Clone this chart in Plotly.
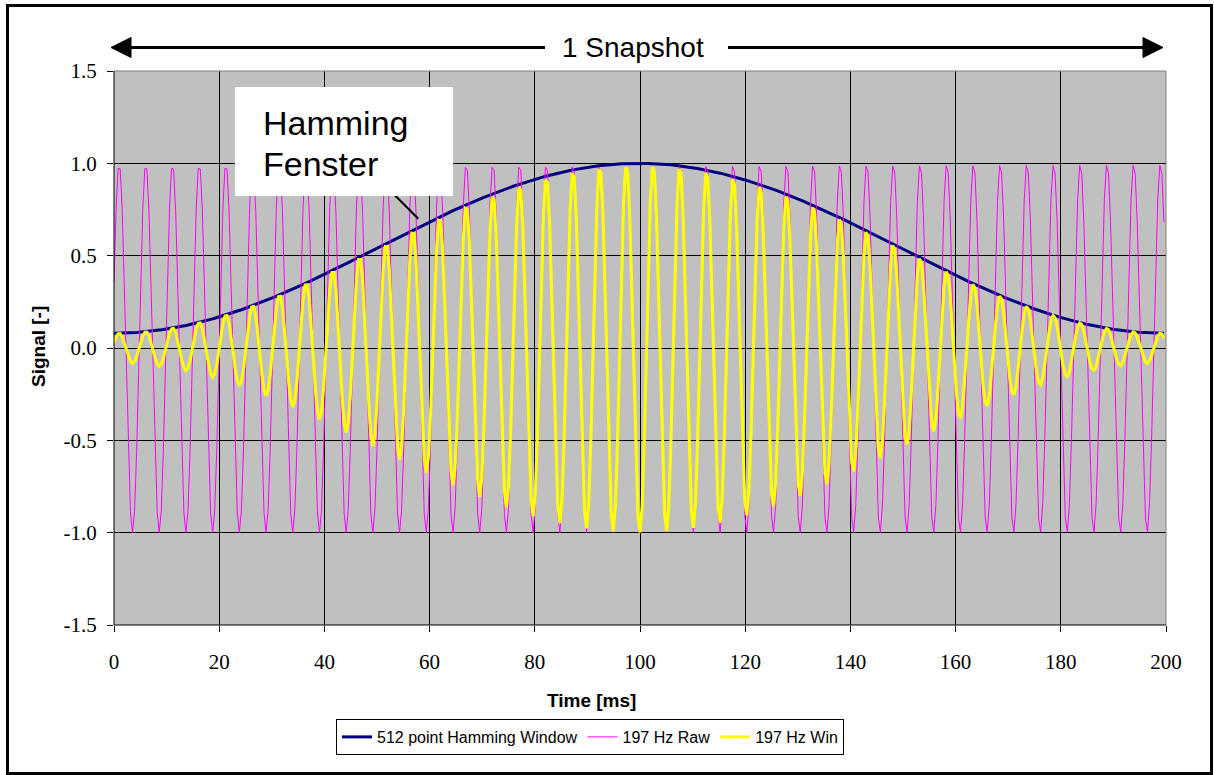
import numpy as np
import plotly.graph_objects as go

# Signal definition: 512 samples at 2560 Hz (200 ms), a 197 Hz tone,
# and a 512 point Hamming window applied to it.
N_SAMPLES = 512
SAMPLE_RATE_HZ = 2560
TONE_HZ = 197
TONE_PEAK_SAMPLE = 2.5          # sample position of the first crest of the tone
HAMMING_A0 = 0.54
HAMMING_A1 = 0.46

X_TICKS = [0, 20, 40, 60, 80, 100, 120, 140, 160, 180, 200]
Y_TICKS = [-1.5, -1.0, -0.5, 0.0, 0.5, 1.0, 1.5]
Y_TICK_LABELS = ["-1.5", "-1.0", "-0.5", "0.0", "0.5", "1.0", "1.5"]

SERIES_NAMES = ["512 point Hamming Window", "197 Hz Raw", "197 Hz Win"]
SERIES_COLORS = ["#000080", "#FF00FF", "#FFFF00"]
SERIES_WIDTHS = [3, 1, 3]

n = np.arange(N_SAMPLES)
time_ms = n * 1000.0 / SAMPLE_RATE_HZ
hamming = HAMMING_A0 - HAMMING_A1 * np.cos(2 * np.pi * n / (N_SAMPLES - 1))
raw = np.cos(2 * np.pi * TONE_HZ * (n - TONE_PEAK_SAMPLE) / SAMPLE_RATE_HZ)
windowed = raw * hamming

W, H = 1214, 775
ML, MR, MT, MB = 114, 48, 71, 150
PW, PH = W - ML - MR, H - MT - MB


def px(xpix):
    return (xpix - ML) / PW


def py(ypix):
    return (H - MB - ypix) / PH


fig = go.Figure()
for y, name, color, width in zip([hamming, raw, windowed], SERIES_NAMES,
                                 SERIES_COLORS, SERIES_WIDTHS):
    fig.add_trace(go.Scatter(x=time_ms, y=y, mode="lines", name=name,
                             line=dict(color=color, width=width)))

serif = dict(family="Liberation Serif, Times New Roman, serif", size=21, color="black")
sans = "Liberation Sans, Arial, sans-serif"

shapes = [
    # outer frame
    dict(type="rect", xref="paper", yref="paper", x0=px(7.5), x1=px(1211.5),
         y0=py(773.5), y1=py(5.5), line=dict(color="black", width=3)),
    # plot-area border: grey top/right, black left/bottom
    dict(type="line", xref="paper", yref="paper", x0=0, x1=1, y0=1, y1=1,
         line=dict(color="#808080", width=1)),
    dict(type="line", xref="paper", yref="paper", x0=1, x1=1, y0=0, y1=1,
         line=dict(color="#808080", width=1)),
    dict(type="line", xref="paper", yref="paper", x0=0, x1=0, y0=0, y1=1,
         line=dict(color="black", width=1)),
    dict(type="line", xref="paper", yref="paper", x0=0, x1=1, y0=0, y1=0,
         line=dict(color="black", width=1)),
    # "1 Snapshot" double arrow
    dict(type="line", xref="paper", yref="paper", x0=px(128), x1=px(545),
         y0=py(47.5), y1=py(47.5), line=dict(color="black", width=3)),
    dict(type="line", xref="paper", yref="paper", x0=px(728), x1=px(1146),
         y0=py(47.5), y1=py(47.5), line=dict(color="black", width=3)),
    dict(type="path", xref="paper", yref="paper", fillcolor="black",
         line=dict(color="black", width=1),
         path=f"M {px(111)} {py(47.5)} L {px(131)} {py(37.5)} L {px(131)} {py(57.5)} Z"),
    dict(type="path", xref="paper", yref="paper", fillcolor="black",
         line=dict(color="black", width=1),
         path=f"M {px(1163)} {py(47.5)} L {px(1143)} {py(37.5)} L {px(1143)} {py(57.5)} Z"),
    # callout leader and box
    dict(type="line", xref="x", yref="y", x0=53.3, y0=0.83, x1=57.85, y1=0.70,
         line=dict(color="black", width=2)),
    dict(type="rect", xref="paper", yref="paper", x0=px(235), x1=px(453),
         y0=py(196), y1=py(87), fillcolor="white", line=dict(width=0)),
]

annotations = [
    dict(text="1 Snapshot", xref="paper", yref="paper", x=px(633), y=py(47),
         showarrow=False, xanchor="center", yanchor="middle",
         font=dict(family=sans, size=28, color="black")),
    dict(text="Hamming", xref="paper", yref="paper", x=px(261), y=py(123),
         showarrow=False, xanchor="left", yanchor="middle",
         font=dict(family=sans, size=34, color="black")),
    dict(text="Fenster", xref="paper", yref="paper", x=px(261), y=py(164),
         showarrow=False, xanchor="left", yanchor="middle",
         font=dict(family=sans, size=34, color="black")),
    dict(text="<b>Time [ms]</b>", xref="paper", yref="paper", x=px(591), y=py(700),
         showarrow=False, xanchor="center", yanchor="middle",
         font=dict(family=sans, size=19, color="black")),
    dict(text="<b>Signal [-]</b>", xref="paper", yref="paper", x=px(38), y=py(347),
         showarrow=False, xanchor="center", yanchor="middle", textangle=-90,
         font=dict(family=sans, size=19, color="black")),
]

fig.update_layout(
    width=W, height=H,
    margin=dict(l=ML, r=MR, t=MT, b=MB, pad=0),
    paper_bgcolor="white",
    plot_bgcolor="#C0C0C0",
    showlegend=True,
    legend=dict(orientation="h", x=px(590), xanchor="center", y=py(719), yanchor="top",
                bgcolor="white", bordercolor="black", borderwidth=1,
                font=dict(family=sans, size=16, color="black"),
                itemwidth=30, tracegroupgap=0),
    xaxis=dict(range=[0, 200], tickvals=X_TICKS, showgrid=True, gridcolor="black",
               gridwidth=1, zeroline=False, showline=False, ticks="outside",
               ticklen=6, tickcolor="black", tickfont=serif, ticklabelstandoff=12,
               fixedrange=True),
    yaxis=dict(range=[-1.5, 1.5], tickvals=Y_TICKS, ticktext=Y_TICK_LABELS,
               showgrid=True, gridcolor="black", gridwidth=1, zeroline=False,
               showline=False, ticks="outside", ticklen=6, tickcolor="black",
               tickfont=serif, ticklabelstandoff=6, fixedrange=True),
    shapes=shapes,
    annotations=annotations,
)

fig.write_html("out.html")
